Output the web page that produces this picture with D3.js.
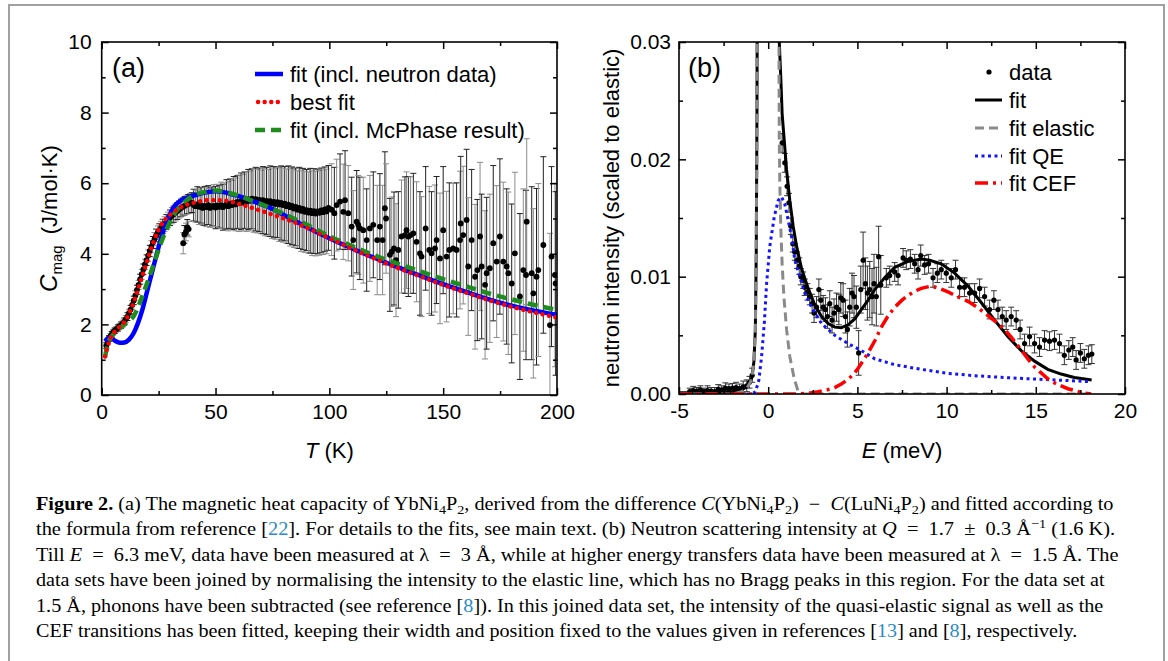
<!DOCTYPE html>
<html><head><meta charset="utf-8">
<script src="https://cdn.jsdelivr.net/npm/d3@7"></script>
<style>
body{margin:0;background:#fff;}
svg{display:block;}
</style></head><body>
<svg id="fig" width="1168" height="661"></svg>
<script>
// ---------------- Panel (a) data : magnetic heat capacity ----------------
const aT = [2.0,2.6,3.2,3.8,4.4,5.0,5.7,6.4,7.1,7.8,8.5,9.2,9.9,10.6,11.3,12.0,12.7,13.4,14.1,14.8,15.5,16.2,16.9,17.6,18.3,19.0,19.7,20.4,21.1,21.8,22.5,23.2,23.9,24.6,25.3,26.0,26.8,27.6,28.4,29.2,30.0,30.8,31.6,32.4,33.2,34.0,34.8,35.6,36.4,37.2,38.0,38.8,39.6,
 35.8,36.3,37.0,37.6,38.2,
 40.4,41.2,42.0,42.8,43.6,44.4,45.2,46.0,46.8,47.6,48.4,49.2,50.0,50.8,51.6,52.4,53.2,54.0,54.8,55.6,56.4,57.2,58.0,58.8,59.6,60.4,61.2,62.0,62.8,63.6,64.4,65.2,66.0,66.8,67.6,68.4,69.2,70.0,70.8,71.6,72.4,73.2,74.0,74.8,75.6,76.4,77.2,78.0,78.8,79.6,80.4,81.2,82.0,82.8,83.6,84.4,85.2,86.0,86.8,87.6,88.4,89.2,90.0,90.8,91.6,92.4,93.2,94.0,94.8,95.6,96.4,97.2,98.0,98.8,99.6,
 101.0,102.2,103.2,104.7,106.1,106.9,108.3,109.8,110.5,112.0,112.7,113.4,114.9,116.4,117.8,119.3,121.0,122.2,123.4,124.4,124.9,126.6,127.4,128.4,129.3,130.3,131.7,133.2,133.9,134.7,135.7,136.9,138.3,139.8,140.5,142.3,143.9,144.9,146.4,147.1,148.6,150.0,151.5,152.7,154.4,155.9,157.4,157.7,158.8,160.3,161.0,162.5,164.0,165.0,166.2,166.9,168.4,169.1,170.5,172.0,173.5,174.9,176.4,177.9,178.6,180.1,181.5,183.7,185.2,186.4,186.7,188.9,189.6,191.0,191.8,194.0,196.9,197.6,199.1,199.4];
const aC = [1.40,1.50,1.60,1.66,1.72,1.78,1.82,1.86,1.90,1.94,1.98,2.02,2.08,2.15,2.22,2.32,2.42,2.55,2.68,2.82,2.98,3.12,3.28,3.42,3.56,3.70,3.82,3.95,4.08,4.20,4.32,4.42,4.52,4.60,4.66,4.72,4.78,4.84,4.90,4.96,5.02,5.08,5.12,5.17,5.21,5.26,5.30,5.33,5.36,5.39,5.41,5.43,5.45,
 4.30,4.55,4.62,4.75,4.70,
 5.38,5.35,5.40,5.33,5.37,5.30,5.36,5.32,5.38,5.30,5.34,5.36,5.31,5.37,5.33,5.38,5.32,5.36,5.40,5.35,5.42,5.38,5.44,5.40,5.47,5.43,5.49,5.45,5.52,5.48,5.54,5.50,5.56,5.51,5.55,5.49,5.53,5.47,5.52,5.46,5.50,5.44,5.49,5.43,5.47,5.41,5.46,5.40,5.44,5.38,5.42,5.35,5.39,5.32,5.36,5.28,5.33,5.25,5.30,5.22,5.27,5.19,5.24,5.17,5.22,5.15,5.21,5.14,5.20,5.16,5.23,5.18,5.26,5.20,5.30,
 5.25,5.15,5.38,5.48,5.19,5.52,5.15,4.77,4.39,4.91,4.82,4.72,4.67,4.39,4.72,4.82,4.39,4.77,4.39,5.29,5.00,3.97,4.06,4.15,3.82,4.11,4.49,4.53,4.67,4.49,4.53,4.58,4.34,4.01,3.92,4.72,4.11,4.01,4.15,4.39,3.87,4.67,3.92,4.11,4.15,4.11,4.39,4.86,4.53,4.96,3.64,4.39,3.35,3.54,4.49,3.64,3.12,3.45,3.59,4.30,3.78,4.49,3.78,3.64,3.45,3.16,4.01,2.79,3.54,3.40,4.91,3.45,2.88,3.35,3.54,4.25,1.98,3.92,3.40,3.16];
const aErr = [0.08,0.08,0.08,0.08,0.08,0.08,0.08,0.08,0.09,0.09,0.09,0.10,0.10,0.10,0.11,0.11,0.12,0.12,0.12,0.13,0.13,0.13,0.14,0.14,0.15,0.15,0.15,0.16,0.16,0.17,0.17,0.18,0.18,0.19,0.19,0.20,0.20,0.21,0.21,0.22,0.22,0.23,0.23,0.24,0.24,0.25,0.25,0.26,0.26,0.27,0.27,0.28,0.28,
 0.30,0.25,0.25,0.22,0.22,
 0.45,0.45,0.50,0.50,0.50,0.50,0.55,0.55,0.55,0.55,0.55,0.60,0.60,0.60,0.60,0.65,0.65,0.65,0.70,0.70,0.70,0.70,0.75,0.75,0.75,0.80,0.80,0.80,0.80,0.85,0.85,0.85,0.85,0.90,0.90,0.90,0.90,0.90,0.95,0.95,0.95,0.95,1.00,1.00,1.00,1.00,1.00,1.05,1.05,1.05,1.05,1.05,1.10,1.10,1.10,1.10,1.10,1.10,1.15,1.15,1.15,1.15,1.15,1.15,1.20,1.20,1.20,1.20,1.20,1.20,1.20,1.20,1.20,1.20,1.20,
 1.30,1.30,1.30,1.35,1.35,1.40,1.35,1.40,1.40,1.45,1.40,1.45,1.50,1.45,1.50,1.50,1.55,1.50,1.55,1.60,1.55,1.60,1.55,1.60,1.60,1.65,1.60,1.65,1.65,1.70,1.65,1.70,1.70,1.75,1.70,1.75,1.80,1.75,1.80,1.80,1.85,1.80,1.85,1.90,1.85,1.90,1.95,1.90,1.95,2.00,1.95,2.00,2.05,2.00,2.10,2.05,2.10,2.15,2.10,2.20,2.15,2.20,2.25,2.20,2.30,2.25,2.30,2.35,2.30,2.40,2.35,2.45,2.40,2.50,2.45,2.50,2.60,2.55,2.60,2.60];

// fits (T in K, C in J/mol K)
const fitNeutron = [[1.5,1.52],[2.5,1.60],[3.5,1.63],[4.5,1.60],[6,1.53],[8,1.48],[10,1.49],[12,1.57],[14,1.75],[16,2.05],[18,2.45],[20,2.95],[22,3.45],[24,3.95],[26,4.42],[28,4.82],[30,5.13],[32,5.35],[35,5.52],[38,5.60],[42,5.68],[46,5.74],[50,5.77],[54,5.74],[58,5.67],[62,5.60],[66,5.50],[70,5.41],[75,5.27],[80,5.10],[85,4.93],[90,4.76],[100,4.44],[110,4.15],[120,3.88],[130,3.62],[140,3.38],[150,3.14],[160,2.92],[170,2.71],[180,2.53],[190,2.39],[200,2.27]];
const fitBest = [[1.5,1.09],[2.5,1.35],[3.5,1.55],[5,1.73],[7,1.88],[9,2.00],[11,2.17],[13,2.45],[15,2.80],[17,3.20],[19,3.60],[21,4.00],[23,4.38],[25,4.68],[27,4.90],[30,5.10],[33,5.25],[37,5.38],[42,5.47],[47,5.52],[52,5.52],[56,5.49],[60,5.42],[65,5.32],[70,5.22],[75,5.11],[80,5.00],[85,4.88],[90,4.74],[100,4.44],[110,4.14],[120,3.86],[130,3.60],[140,3.36],[150,3.12],[160,2.90],[170,2.69],[180,2.50],[190,2.34],[200,2.19]];
const fitMcPhase = [[1.5,1.09],[2.5,1.40],[4,1.62],[6,1.78],[8,1.90],[10,2.00],[12,2.10],[14,2.23],[16,2.49],[18,2.83],[20,3.18],[22,3.55],[24,3.93],[26,4.30],[28,4.62],[30,4.90],[32,5.14],[34,5.31],[37,5.50],[41,5.67],[46,5.76],[50,5.79],[55,5.74],[60,5.65],[65,5.53],[70,5.41],[75,5.27],[80,5.13],[85,4.98],[90,4.83],[100,4.50],[110,4.22],[120,3.95],[130,3.72],[140,3.50],[150,3.28],[160,3.08],[170,2.88],[180,2.71],[190,2.55],[200,2.41]];

// ---------------- Panel (b) data : neutron intensity ----------------
const bE = [-4.4,-4.2,-4.0,-3.8,-3.6,-3.4,-3.2,-3.0,-2.8,-2.6,-2.4,-2.2,-2.0,-1.8,-1.6,-1.4,-1.2,-1.05,-0.9,
 0.78,0.93,1.06,1.16,1.27,1.38,1.49,1.62,1.74,1.83,1.96,2.05,2.2,2.33,2.46,2.57,2.71,2.84,2.95,3.08,3.21,3.32,3.45,3.58,3.69,3.83,3.96,4.07,4.2,4.33,4.44,4.57,4.7,4.81,4.94,5.07,5.19,5.32,5.45,5.56,5.69,5.82,5.93,6.06,6.19,6.31,
 6.62,6.81,7.09,7.28,7.56,7.74,7.97,8.21,8.4,8.55,8.77,8.99,9.24,9.48,9.7,9.98,10.26,10.5,10.73,11.0,11.29,11.57,11.85,12.13,12.41,12.65,12.88,13.12,13.34,13.62,13.9,14.12,14.37,14.65,14.93,15.21,15.49,15.77,16.05,16.33,16.6,16.85,17.07,17.26,17.5,17.72,17.95,18.14];
const bI = [0.0002,0.0003,0.00025,0.00035,0.0002,0.0003,0.00025,0.0002,0.0004,0.00035,0.0005,0.00045,0.0005,0.00055,0.00045,0.0006,0.0007,0.0010,0.0016,
 0.0214,0.0197,0.0177,0.0163,0.0143,0.0128,0.0121,0.0114,0.0109,0.0100,0.0097,0.0091,0.0087,0.0083,0.0077,0.0069,0.0074,0.0089,0.0080,0.0074,0.0072,0.0066,0.0077,0.0063,0.0069,0.0074,0.0072,0.0082,0.0080,0.0066,0.0055,0.0074,0.0086,0.0083,0.0074,0.0035,0.0089,0.0114,0.0094,0.0086,0.0089,0.0083,0.0094,0.0083,0.0117,0.0093,
 0.0099,0.0101,0.0104,0.0101,0.0116,0.0114,0.0115,0.0111,0.0106,0.0118,0.0110,0.0111,0.0099,0.0103,0.0106,0.0103,0.0099,0.0106,0.0091,0.0091,0.0086,0.0086,0.0090,0.0083,0.0072,0.0080,0.0072,0.0066,0.0063,0.0066,0.0063,0.0055,0.0043,0.0049,0.0043,0.0040,0.0046,0.0045,0.0046,0.0043,0.0033,0.00375,0.0040,0.0029,0.0035,0.0030,0.0033,0.0034];
const bErr = [0.0003,0.00035,0.0003,0.00035,0.0003,0.0004,0.0003,0.00035,0.0004,0.00035,0.00045,0.0004,0.0004,0.00045,0.0004,0.0005,0.0005,0.0005,0.0006,
 0.0008,0.0008,0.0008,0.0008,0.0007,0.0007,0.0007,0.0007,0.0007,0.0007,0.0007,0.0007,0.0007,0.0007,0.0008,0.0008,0.0009,0.0009,0.0009,0.0010,0.0010,0.0010,0.0011,0.0011,0.0012,0.0012,0.0013,0.0013,0.0014,0.0014,0.0015,0.0016,0.0017,0.0018,0.0018,0.0019,0.0020,0.0024,0.0022,0.0023,0.0024,0.0024,0.0025,0.0025,0.0026,0.0025,
 0.0008,0.0008,0.0008,0.0008,0.0008,0.0008,0.0008,0.0008,0.0008,0.0009,0.0008,0.0008,0.0008,0.0008,0.0008,0.0008,0.0008,0.0008,0.0008,0.0008,0.0008,0.0008,0.0008,0.0008,0.0008,0.0008,0.0008,0.0008,0.0008,0.0008,0.0008,0.0008,0.0008,0.0008,0.0008,0.0008,0.0008,0.0008,0.0008,0.0008,0.0008,0.0008,0.0008,0.0008,0.0008,0.0008,0.0008,0.0008];

const fitTotal = [[-5,0.0001],[-4,0.0001],[-3,0.00012],[-2,0.0002],[-1.5,0.00035],[-1.2,0.0006],[-1.0,0.001],[-0.9,0.0015],[-0.8,0.0028],[-0.72,0.0055],[-0.67,0.012],[-0.63,0.024],[-0.6,0.04],[0,1.0],[0.58,0.04],[0.62,0.030],[0.71,0.0268],[0.78,0.0239],[0.9,0.0216],[1.03,0.0191],[1.21,0.0165],[1.4,0.0143],[1.59,0.0126],[1.87,0.0107],[2.24,0.0090],[2.61,0.0076],[2.99,0.0066],[3.36,0.0060],[3.73,0.0057],[4.1,0.00565],[4.48,0.0059],[4.85,0.0064],[5.22,0.0072],[5.6,0.0080],[5.97,0.0089],[6.53,0.0099],[7.09,0.0108],[7.84,0.0113],[8.58,0.0115],[9.05,0.0114],[9.7,0.0111],[10.45,0.0103],[11.2,0.0092],[11.94,0.0078],[12.69,0.0063],[13.43,0.0049],[14.18,0.0037],[14.93,0.0028],[15.67,0.0021],[16.42,0.0017],[17.16,0.0014],[18.13,0.0012]];
const fitElastic = [[-5,0],[-2,0],[-1.5,0.0002],[-1.2,0.0005],[-1.0,0.001],[-0.9,0.0015],[-0.8,0.0028],[-0.72,0.0055],[-0.67,0.012],[-0.63,0.024],[-0.6,0.04],[0,1.0],[0.6,0.032],[0.62,0.022],[0.65,0.018],[0.71,0.014],[0.78,0.0111],[0.88,0.0083],[1.03,0.0055],[1.21,0.0032],[1.46,0.0013],[1.68,0.0002],[1.8,0],[18.2,0]];
const fitQE = [[-1.2,0],[-1.0,0],[-0.85,0.00005],[-0.71,0.0002],[-0.52,0.0012],[-0.37,0.0032],[-0.22,0.0060],[-0.09,0.0094],[0.09,0.0126],[0.34,0.0151],[0.56,0.0165],[0.75,0.0168],[0.93,0.0162],[1.12,0.0148],[1.31,0.0134],[1.49,0.0114],[1.77,0.0100],[2.05,0.0086],[2.43,0.0074],[2.99,0.0060],[3.73,0.0050],[4.48,0.0043],[5.22,0.0037],[5.97,0.0030],[7.09,0.0025],[8.58,0.0021],[10.08,0.00176],[11.57,0.00156],[13.06,0.00142],[14.55,0.0013],[16.05,0.0012],[18.1,0.00105]];
const fitCEF = [[-5,0],[1.5,0],[2.2,0.00005],[2.8,0.0002],[3.3,0.00035],[3.73,0.00055],[4.1,0.00085],[4.48,0.00125],[4.8,0.0017],[5.04,0.0022],[5.3,0.0028],[5.6,0.0035],[6.0,0.0046],[6.34,0.0057],[6.7,0.0066],[7.09,0.0074],[7.5,0.0080],[7.84,0.0084],[8.2,0.00875],[8.58,0.0090],[9.14,0.0092],[9.6,0.0090],[10.08,0.0087],[10.6,0.0083],[11.2,0.0079],[11.8,0.0073],[12.3,0.0067],[12.8,0.0061],[13.25,0.0055],[13.7,0.0047],[14.18,0.00375],[14.6,0.0029],[14.93,0.0023],[15.3,0.0018],[15.67,0.0013],[16.05,0.00095],[16.42,0.0007],[16.8,0.00045],[17.16,0.0003],[17.6,0.00012],[18.1,0]];

// ticks
const aXTicks = [0,50,100,150,200], aXMinor = [25,75,125,175];
const aYTicks = [0,2,4,6,8,10], aYMinor = [1,3,5,7,9];
const bXTicks = [-5,0,5,10,15,20], bXMinor = [-2.5,2.5,7.5,12.5,17.5];
const bYTicks = [0,0.01,0.02,0.03], bYMinor = [0.005,0.015,0.025];

// legend labels
const aLegend = ['fit (incl. neutron data)','best fit','fit (incl. McPhase result)'];
const bLegend = ['data','fit','fit elastic','fit QE','fit CEF'];

// caption
const REF = '#2b8cc4';
const EQ = '\u2002=\u2002';
const caption = [
 [{t:'Figure 2.',b:1},{t:' (a) The magnetic heat capacity of YbNi'},{t:'4',sub:1},{t:'P'},{t:'2',sub:1},{t:', derived from the difference '},{t:'C',i:1},{t:'(YbNi'},{t:'4',sub:1},{t:'P'},{t:'2',sub:1},{t:')\u2002−\u2002'},{t:'C',i:1},{t:'(LuNi'},{t:'4',sub:1},{t:'P'},{t:'2',sub:1},{t:') and fitted according to'}],
 [{t:'the formula from reference ['},{t:'22',c:REF},{t:']. For details to the fits, see main text. (b) Neutron scattering intensity at '},{t:'Q',i:1},{t:EQ+'1.7\u2002±\u20020.3 Å'},{t:'−1',sup:1},{t:' (1.6 K).'}],
 [{t:'Till '},{t:'E',i:1},{t:EQ+'6.3 meV, data have been measured at λ'+EQ+'3 Å, while at higher energy transfers data have been measured at λ'+EQ+'1.5 Å. The'}],
 [{t:'data sets have been joined by normalising the intensity to the elastic line, which has no Bragg peaks in this region. For the data set at'}],
 [{t:'1.5 Å, phonons have been subtracted (see reference ['},{t:'8',c:REF},{t:']). In this joined data set, the intensity of the quasi-elastic signal as well as the'}],
 [{t:'CEF transitions has been fitted, keeping their width and position fixed to the values given in references ['},{t:'13',c:REF},{t:'] and ['},{t:'8',c:REF},{t:'], respectively.'}]
];
const capEnds = [1114, 1116, 1119, 1105, 1104, 1078];

// ---------------- drawing ----------------
const SANS = "'Liberation Sans', Arial, Helvetica, sans-serif";
const SERIF = "'Liberation Serif', 'Times New Roman', Times, serif";
const svg = d3.select('#fig');
svg.append('rect').attr('width',1168).attr('height',661).attr('fill','#fff');
svg.append('rect').attr('x',9).attr('y',5).attr('width',1155).attr('height',720)
  .attr('fill','none').attr('stroke','#a0a0a0').attr('stroke-width',2);

const A = {l:101.7, r:557, t:42, b:395};
const B = {l:679, r:1125, t:42, b:394};
const xa = d3.scaleLinear().domain([0,200]).range([A.l,A.r]);
const ya = d3.scaleLinear().domain([0,10]).range([A.b,A.t]);
const xb = d3.scaleLinear().domain([-5,20]).range([B.l,B.r]);
const yb = d3.scaleLinear().domain([0,0.03]).range([B.b,B.t]);

const defs = svg.append('defs');
[['clipA',A],['clipB',B]].forEach(([id,P]) => {
  defs.append('clipPath').attr('id',id).append('rect')
    .attr('x',P.l).attr('y',P.t).attr('width',P.r-P.l).attr('height',P.b-P.t);
});

const intFmt = d => (d < 0 ? '-' : '') + Math.abs(d);

function axes(P, x, y, xt, xm, yt, ym, xf, yf, ypad) {
  const g = svg.append('g').attr('font-family',SANS);
  const style = sel => { sel.select('.domain').remove();
    sel.selectAll('line').attr('stroke','#000').attr('stroke-width',1.5);
    sel.attr('font-size',21).attr('font-family',SANS);
    sel.selectAll('text').attr('fill','#000'); };
  g.append('g').attr('transform',`translate(0,${P.b})`).call(d3.axisBottom(x).tickValues(xt).tickSizeInner(-7).tickSizeOuter(0).tickPadding(9).tickFormat(xf)).call(style);
  g.append('g').attr('transform',`translate(0,${P.b})`).call(d3.axisBottom(x).tickValues(xm).tickSizeInner(-4).tickSizeOuter(0).tickFormat('')).call(style);
  g.append('g').attr('transform',`translate(0,${P.t})`).call(d3.axisTop(x).tickValues(xt).tickSizeInner(-7).tickSizeOuter(0).tickFormat('')).call(style);
  g.append('g').attr('transform',`translate(0,${P.t})`).call(d3.axisTop(x).tickValues(xm).tickSizeInner(-4).tickSizeOuter(0).tickFormat('')).call(style);
  g.append('g').attr('transform',`translate(${P.l},0)`).call(d3.axisLeft(y).tickValues(yt).tickSizeInner(-7).tickSizeOuter(0).tickPadding(ypad).tickFormat(yf)).call(style);
  g.append('g').attr('transform',`translate(${P.l},0)`).call(d3.axisLeft(y).tickValues(ym).tickSizeInner(-4).tickSizeOuter(0).tickFormat('')).call(style);
  g.append('g').attr('transform',`translate(${P.r},0)`).call(d3.axisRight(y).tickValues(yt).tickSizeInner(-7).tickSizeOuter(0).tickFormat('')).call(style);
  g.append('g').attr('transform',`translate(${P.r},0)`).call(d3.axisRight(y).tickValues(ym).tickSizeInner(-4).tickSizeOuter(0).tickFormat('')).call(style);
  svg.append('rect').attr('x',P.l).attr('y',P.t).attr('width',P.r-P.l).attr('height',P.b-P.t)
    .attr('fill','none').attr('stroke','#000').attr('stroke-width',1.6);
}

// ---- panel (a)
const ga = svg.append('g').attr('clip-path','url(#clipA)');
const aPts = aT.map((t,i)=>({x:t,y:aC[i],e:aErr[i],i}));
const eba = ga.append('g');
aPts.forEach(p => {
  const col = p.i % 2 ? '#8c8c8c' : '#222';
  const X = xa(p.x), y1 = ya(p.y+p.e), y2 = ya(p.y-p.e);
  eba.append('line').attr('x1',X).attr('x2',X).attr('y1',y1).attr('y2',y2).attr('stroke',col).attr('stroke-width',1);
  eba.append('line').attr('x1',X-3).attr('x2',X+3).attr('y1',y1).attr('y2',y1).attr('stroke',col).attr('stroke-width',1);
  eba.append('line').attr('x1',X-3).attr('x2',X+3).attr('y1',y2).attr('y2',y2).attr('stroke',col).attr('stroke-width',1);
});
ga.append('g').selectAll('circle').data(aPts).join('circle')
  .attr('cx',d=>xa(d.x)).attr('cy',d=>ya(d.y)).attr('r',2.9).attr('fill','#000');
const lineA = d3.line().x(d=>xa(d[0])).y(d=>ya(d[1])).curve(d3.curveMonotoneX);
ga.append('path').attr('d',lineA(fitNeutron)).attr('fill','none').attr('stroke','#0000ff').attr('stroke-width',4.5);
ga.append('path').attr('d',lineA(fitMcPhase)).attr('fill','none').attr('stroke','#1e8c1e').attr('stroke-width',4.5).attr('stroke-dasharray','10,6');
ga.append('path').attr('d',lineA(fitBest)).attr('fill','none').attr('stroke','#ff0000').attr('stroke-width',4.4).attr('stroke-linecap','round').attr('stroke-dasharray','0.1,6.5');

axes(A, xa, ya, aXTicks, aXMinor, aYTicks, aYMinor, intFmt, intFmt, 10);

// ---- panel (b)
const gb = svg.append('g').attr('clip-path','url(#clipB)');
const bPts = bE.map((e,i)=>({x:e,y:bI[i],e:bErr[i]}));
const ebb = gb.append('g');
bPts.forEach(p => {
  const X = xb(p.x), y1 = yb(p.y+p.e), y2 = yb(Math.max(p.y-p.e,0));
  ebb.append('line').attr('x1',X).attr('x2',X).attr('y1',y1).attr('y2',y2).attr('stroke','#333').attr('stroke-width',1);
  ebb.append('line').attr('x1',X-3).attr('x2',X+3).attr('y1',y1).attr('y2',y1).attr('stroke','#333').attr('stroke-width',1);
  ebb.append('line').attr('x1',X-3).attr('x2',X+3).attr('y1',y2).attr('y2',y2).attr('stroke','#333').attr('stroke-width',1);
});
gb.append('g').selectAll('circle').data(bPts).join('circle')
  .attr('cx',d=>xb(d.x)).attr('cy',d=>yb(d.y)).attr('r',2.6).attr('fill','#000');
const lineB = d3.line().x(d=>xb(d[0])).y(d=>yb(d[1]));
gb.append('path').attr('d',lineB(fitTotal)).attr('fill','none').attr('stroke','#000').attr('stroke-width',3);
gb.append('path').attr('d',lineB(fitElastic)).attr('fill','none').attr('stroke','#8a8a8a').attr('stroke-width',3).attr('stroke-dasharray','9,5');
gb.append('path').attr('d',lineB(fitQE)).attr('fill','none').attr('stroke','#1414ff').attr('stroke-width',3).attr('stroke-dasharray','3,3.5');
gb.append('path').attr('d',lineB(fitCEF)).attr('fill','none').attr('stroke','#ff0000').attr('stroke-width',3.5).attr('stroke-dasharray','13,5,3,5');

axes(B, xb, yb, bXTicks, bXMinor, bYTicks, bYMinor, intFmt, d3.format('.2f'), 8);

// ---- texts
function txt(x,y,s,size,opts={}) {
  const t = svg.append('text').attr('x',x).attr('y',y).attr('font-family',opts.font||SANS)
    .attr('font-size',size).attr('fill','#000').text(s);
  if (opts.anchor) t.attr('text-anchor',opts.anchor);
  return t;
}
txt(112,77,'(a)',27);
txt(688,77,'(b)',27);

// axis titles
const tA = svg.append('text').attr('x',(A.l+A.r)/2).attr('y',458).attr('text-anchor','middle')
  .attr('font-family',SANS).attr('font-size',22);
tA.append('tspan').attr('font-style','italic').text('T');
tA.append('tspan').text(' (K)');
const tB = svg.append('text').attr('x',(B.l+B.r)/2).attr('y',458).attr('text-anchor','middle')
  .attr('font-family',SANS).attr('font-size',22);
tB.append('tspan').attr('font-style','italic').text('E');
tB.append('tspan').text(' (meV)');
const yA = svg.append('text').attr('transform',`translate(57,${(A.t+A.b)/2}) rotate(-90)`).attr('text-anchor','middle')
  .attr('font-family',SANS).attr('font-size',22);
yA.append('tspan').attr('font-style','italic').attr('font-size',24).text('C');
yA.append('tspan').attr('font-size',15).attr('dy',5).text('mag');
yA.append('tspan').attr('dy',-5).text('\u2002(J/mol·K)');
svg.append('text').attr('transform',`translate(619,${(B.t+B.b)/2}) rotate(-90)`).attr('text-anchor','middle')
  .attr('font-family',SANS).attr('font-size',22).text('neutron intensity (scaled to elastic)');

// legend (a)
const aLegStyle = [
  {stroke:'#0000ff', w:4.5, dash:null, cap:'butt'},
  {stroke:'#ff0000', w:4.4, dash:'0.1,6.5', cap:'round'},
  {stroke:'#1e8c1e', w:4.5, dash:'10,6', cap:'butt'}
];
aLegend.forEach((lab,i) => {
  const yy = 74 + i*28;
  const s = aLegStyle[i];
  svg.append('line').attr('x1',s.cap==='round'?258:255).attr('x2',283).attr('y1',yy).attr('y2',yy)
    .attr('stroke',s.stroke).attr('stroke-width',s.w).attr('stroke-dasharray',s.dash).attr('stroke-linecap',s.cap);
  txt(290, yy+8, lab, 22);
});
// legend (b)
const bLegStyle = [
  null,
  {stroke:'#000', w:3, dash:null},
  {stroke:'#8a8a8a', w:3, dash:'9,5'},
  {stroke:'#1414ff', w:3, dash:'3,3.5'},
  {stroke:'#ff0000', w:3.5, dash:'13,5,3,5'}
];
const bLegY = [72,100,128,156,183];
bLegend.forEach((lab,i) => {
  const yy = bLegY[i];
  const s = bLegStyle[i];
  if (!s) svg.append('circle').attr('cx',989).attr('cy',yy).attr('r',2.6).attr('fill','#000');
  else svg.append('line').attr('x1',975).attr('x2',1002).attr('y1',yy).attr('y2',yy)
    .attr('stroke',s.stroke).attr('stroke-width',s.w).attr('stroke-dasharray',s.dash);
  txt(1009, yy+8, lab, 22);
});

// caption
const capSize = 18;
const capG = svg.append('g');
caption.forEach((segs, li) => {
  const t = capG.append('text').attr('x',0).attr('y',0).attr('font-family',SERIF).attr('font-size',capSize).attr('fill','#000')
    .attr('xml:space','preserve').style('white-space','pre');
  let shift = 0;
  segs.forEach(s => {
    const ts = t.append('tspan').text(s.t);
    if (s.b) ts.attr('font-weight','bold');
    if (s.i) ts.attr('font-style','italic');
    if (s.c) ts.attr('fill', s.c);
    let target = 0;
    if (s.sub) { ts.attr('font-size', capSize*0.7); target = 4; }
    if (s.sup) { ts.attr('font-size', capSize*0.7); target = -7; }
    if (target !== shift) { ts.attr('dy', target - shift); shift = target; }
  });
  const k = (capEnds[li] - 36) / t.node().getComputedTextLength();
  t.attr('transform', `translate(36,${509.5 + li*25.5}) scale(${k},1)`);
});
</script>
</body></html>
